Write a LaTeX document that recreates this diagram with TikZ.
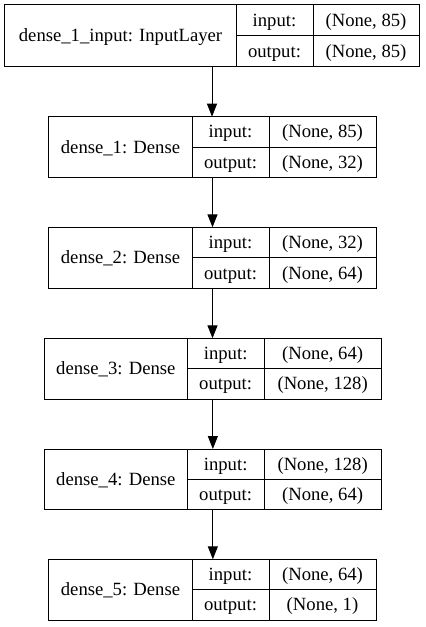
\documentclass[tikz,border=0pt]{standalone}
\usepackage{fontspec}
\setmainfont{Liberation Serif}
\usetikzlibrary{arrows.meta}
\begin{document}
\begin{tikzpicture}[x=1bp,y=-1bp,
  font=\fontsize{18.67bp}{21bp}\selectfont, line width=1bp,
  recbox/.style={draw, inner sep=0pt, outer sep=0pt},
  txt/.style={inner sep=0pt, anchor=base},
  conn/.style={-{Triangle[length=13bp,width=10bp]}, line width=1bp}]
\useasboundingbox (0,0) rectangle (425,627);
\foreach \n/\xa/\xb/\xc/\xd/\ya/\ym/\yb/\lab/\inp/\outp in {
 0/5/236/313/419/5/35.7/66.7/{dense\_1\_input: InputLayer}/{(None, 85)}/{(None, 85)},
 1/49/192/269/376/116.7/147.3/177.7/{dense\_1: Dense}/{(None, 85)}/{(None, 32)},
 2/49/192/269/376/227.3/257.7/288.3/{dense\_2: Dense}/{(None, 32)}/{(None, 64)},
 3/44.7/187/264.3/381/338.3/368.7/399/{dense\_3: Dense}/{(None, 64)}/{(None, 128)},
 4/44.7/187/264.3/381/449/479.3/509.7/{dense\_4: Dense}/{(None, 128)}/{(None, 64)},
 5/49/192/269/376/559.3/589.7/620/{dense\_5: Dense}/{(None, 64)}/{(None, 1)}}
{
 \pgfmathsetmacro\w{\xd-\xa}
 \pgfmathsetmacro\h{\yb-\ya}
 \node[recbox, minimum width=\w bp, minimum height=\h bp] (L\n) at ({(\xa+\xd)/2},{(\ya+\yb)/2}) {};
 \draw (\xb,\ya) -- (\xb,\yb);
 \draw (\xc,\ya) -- (\xc,\yb);
 \draw (\xb,\ym) -- (\xd,\ym);
 \node[txt] (N\n) at ({(\xa+\xb)/2},{(\ya+\yb)/2+6}) {\lab};
 \node[txt] (Ki\n) at ({(\xb+\xc)/2},{(\ya+\ym)/2+6}) {input:};
 \node[txt] (Ko\n) at ({(\xb+\xc)/2},{(\ym+\yb)/2+6}) {output:};
 \node[txt] (Vi\n) at ({(\xc+\xd)/2},{(\ya+\ym)/2+6}) {\inp};
 \node[txt] (Vo\n) at ({(\xc+\xd)/2},{(\ym+\yb)/2+6}) {\outp};
}
\foreach \a/\b in {0/1,1/2,2/3,3/4,4/5}
 \draw[conn] (L\a.south) -- (L\a.south |- L\b.north);
\end{tikzpicture}
\end{document}
